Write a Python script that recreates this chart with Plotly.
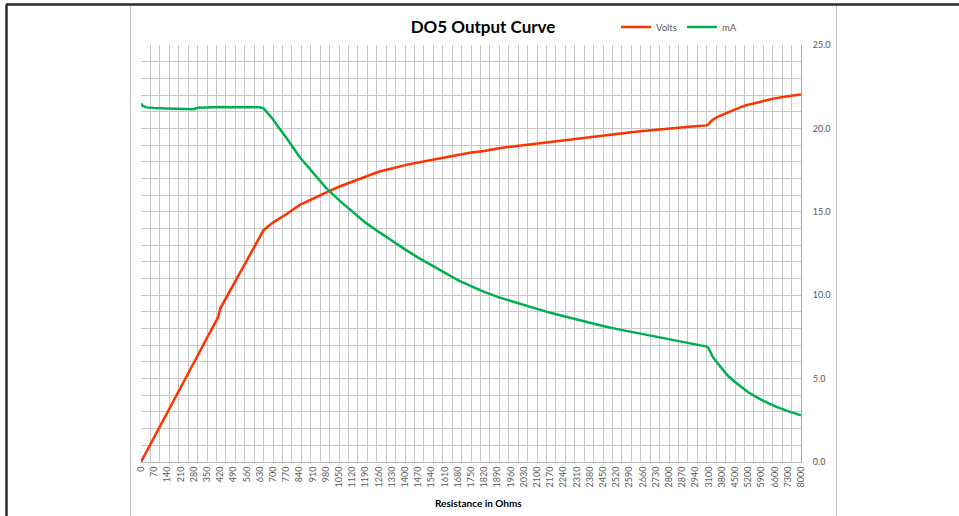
import plotly.graph_objects as go

# Category axis: 10-ohm steps up to 3000, then 100-ohm steps up to 8000
categories = [str(r) for r in range(0, 3001, 10)] + [str(r) for r in range(3100, 8001, 100)]
LABEL_EVERY = 7   # a tick label on every 7th category
GRID_EVERY = 5    # a vertical gridline on every 5th category

resistance = [0, 10, 30, 70, 140, 210, 280, 300, 350, 410, 420, 490, 560, 630, 650,
              700, 730, 770, 840, 910, 980, 1050, 1120, 1190, 1260, 1330, 1400, 1470,
              1540, 1610, 1680, 1750, 1820, 1890, 1960, 2030, 2100, 2170, 2240, 2310,
              2380, 2450, 2520, 2590, 2660, 2730, 2800, 2870, 2940, 3000, 3100, 3200,
              3300, 3400, 3600, 3800, 4100, 4500, 5000, 5200, 5900, 6600, 7300, 8000]

volts = [0.00, 0.21, 0.64, 1.49, 2.98, 4.46, 5.95, 6.37, 7.44, 8.71, 9.20, 10.63, 12.06,
         13.49, 13.90, 14.35, 14.55, 14.85, 15.40, 15.80, 16.15, 16.50, 16.80, 17.10,
         17.40, 17.60, 17.80, 17.95, 18.10, 18.25, 18.40, 18.55, 18.65, 18.80, 18.90,
         19.00, 19.10, 19.20, 19.30, 19.40, 19.50, 19.60, 19.68, 19.76, 19.84, 19.92,
         20.00, 20.07, 20.13, 20.18, 20.25, 20.40, 20.50, 20.58, 20.70, 20.80, 20.95,
         21.15, 21.36, 21.42, 21.62, 21.80, 21.93, 22.04]

milliamps = [21.50, 21.35, 21.26, 21.22, 21.20, 21.18, 21.15, 21.24, 21.27, 21.28, 21.28,
             21.27, 21.28, 21.27, 21.20, 20.55, 20.05, 19.45, 18.30, 17.35, 16.45, 15.70,
             15.00, 14.35, 13.80, 13.25, 12.75, 12.25, 11.80, 11.30, 10.90, 10.55, 10.20,
             9.90, 9.65, 9.40, 9.18, 8.95, 8.75, 8.52, 8.33, 8.15, 7.98, 7.82, 7.66, 7.50,
             7.35, 7.20, 7.05, 6.92, 6.82, 6.55, 6.35, 6.18, 5.88, 5.58, 5.20, 4.80, 4.32,
             4.18, 3.72, 3.35, 3.05, 2.80]

x_vals = [str(r) for r in resistance]

W, H = 959, 516
ML, MR, MT, MB = 141, 158, 45, 54
PW, PH = W - ML - MR, H - MT - MB


def px_x(px):
    return (px - ML) / PW


def px_y(py):
    return (H - MB - py) / PH


GRID = "#c8c8c8"
TEXT = "#595959"
FONT = "Lato"

fig = go.Figure()
fig.add_trace(go.Scatter(x=x_vals, y=volts, name="Volts", mode="lines",
                         xaxis="x", yaxis="y",
                         line=dict(color="#ff3300", width=2.5)))
fig.add_trace(go.Scatter(x=x_vals, y=milliamps, name="mA", mode="lines",
                         xaxis="x2", yaxis="y",
                         line=dict(color="#00b050", width=2.5)))

common_x = dict(type="category", categoryorder="array", categoryarray=categories,
                range=[0, len(categories) - 1], zeroline=False, fixedrange=True)

fig.update_layout(
    width=W, height=H,
    margin=dict(l=ML, r=MR, t=MT, b=MB, pad=0),
    paper_bgcolor="white", plot_bgcolor="white",
    showlegend=True,
    title=dict(text="<b>DO5 Output Curve</b>", x=483 / W, xref="container", xanchor="center",
               y=1 - 27 / H, yref="container", yanchor="middle",
               font=dict(family=FONT, size=17, color="#000000")),
    legend=dict(orientation="h", x=px_x(679), xanchor="center", y=px_y(27), yanchor="middle",
                font=dict(family=FONT, size=9.5, color=TEXT), itemwidth=30,
                bgcolor="rgba(0,0,0,0)", tracegroupgap=0),
    xaxis=dict(**common_x, tickmode="linear", tick0=0, dtick=LABEL_EVERY,
               tickangle=-90, showgrid=False, showline=True, linecolor="#bfbfbf",
               linewidth=1, ticks="", tickfont=dict(family=FONT, size=9, color=TEXT)),
    xaxis2=dict(**common_x, overlaying="x", anchor="y", tickmode="linear", tick0=0,
                dtick=GRID_EVERY, showticklabels=False, showgrid=True,
                gridcolor=GRID, gridwidth=1, ticks="", showline=False),
    yaxis=dict(range=[0, 25], dtick=5, tick0=0, tickformat=".1f", side="right",
               showgrid=True, gridcolor=GRID, gridwidth=1, zeroline=False,
               showline=True, linecolor="#a6a6a6", linewidth=1, ticks="",
               ticklabelstandoff=9, fixedrange=True,
               tickfont=dict(family=FONT, size=9, color=TEXT),
               minor=dict(dtick=1, tick0=0, showgrid=True, gridcolor=GRID, gridwidth=1)),
    annotations=[dict(text="<b>Resistance in Ohms</b>", x=px_x(478), y=px_y(503),
                      xref="paper", yref="paper", showarrow=False,
                      xanchor="center", yanchor="middle",
                      font=dict(family=FONT, size=10, color="#000000"))],
    shapes=[
        # window frame: dark top and left edges
        dict(type="line", xref="paper", yref="paper", x0=px_x(6), x1=px_x(W),
             y0=px_y(4.5), y1=px_y(4.5), line=dict(color="#2b2b2b", width=2.5)),
        dict(type="line", xref="paper", yref="paper", x0=px_x(6.5), x1=px_x(6.5),
             y0=px_y(4.5), y1=px_y(H), line=dict(color="#2b2b2b", width=2.5)),
        # chart area borders
        dict(type="line", xref="paper", yref="paper", x0=px_x(130.5), x1=px_x(130.5),
             y0=px_y(6), y1=px_y(H), line=dict(color="#bfbfbf", width=1)),
        dict(type="line", xref="paper", yref="paper", x0=px_x(836.5), x1=px_x(836.5),
             y0=px_y(6), y1=px_y(H), line=dict(color="#bfbfbf", width=1)),
    ],
)

fig.write_html("out.html")
